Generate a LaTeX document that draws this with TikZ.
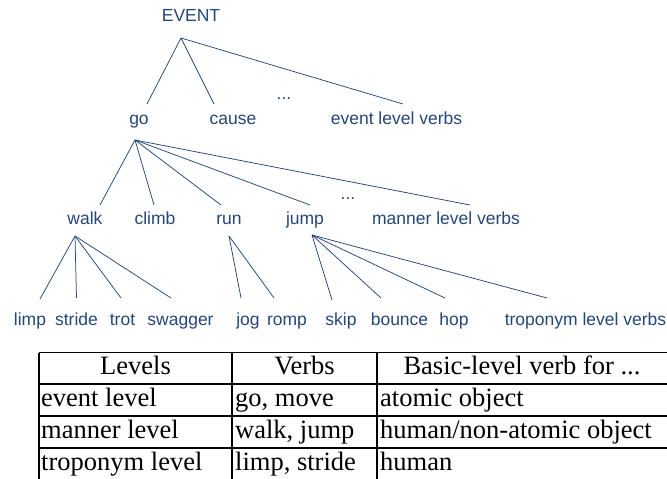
\documentclass[tikz,border=0pt]{standalone}
\usepackage{fontspec}
\setmainfont{Liberation Serif}
\newfontfamily\treefont{Liberation Sans}
\definecolor{treeblue}{RGB}{36,70,122}
\tikzset{
    word/.style={anchor=base, inner sep=0pt, text=treeblue,
                 font=\treefont\fontsize{17.5}{20}\selectfont},
    branch/.style={treeblue, line width=0.75pt},
    cell/.style={anchor=base, inner sep=0pt, font=\fontsize{26.5}{29}\selectfont},
    leftcell/.style={cell, anchor=base west},
    tableline/.style={line width=1.3pt}
}

\begin{document}
\begin{tikzpicture}[x=1pt, y=-1pt]
    \useasboundingbox (0,0) rectangle (667,479);

    % event level
    \node [word] (event) at (191,21) {EVENT};
    \node [word] (go) at (139,124) {go};
    \node [word] (cause) at (233,124) {cause};
    \node [word] (dotsA) at (284,99) {...};
    \node [word] (evl) at (396.5,124) {event level verbs};
    \coordinate (eventfork) at (181,38);
    \draw [branch] (eventfork) -- ([xshift=8pt, yshift=20pt]go.base);
    \draw [branch] (eventfork) -- ([xshift=-19pt, yshift=20pt]cause.base);
    \draw [branch] (eventfork) -- ([xshift=6.5pt, yshift=20pt]evl.base);

    % manner level
    \node [word] (walk) at (85,224) {walk};
    \node [word] (climb) at (155,224) {climb};
    \node [word] (run) at (229,224) {run};
    \node [word] (jump) at (305,224) {jump};
    \node [word] (dotsB) at (348,199) {...};
    \node [word] (mlv) at (446,224) {manner level verbs};
    \coordinate (gofork) at (135,140);
    \draw [branch] (gofork) -- ([xshift=15pt, yshift=19pt]walk.base);
    \draw [branch] (gofork) -- ([xshift=-1pt, yshift=19pt]climb.base);
    \draw [branch] (gofork) -- ([xshift=-8pt, yshift=19pt]run.base);
    \draw [branch] (gofork) -- ([xshift=5pt, yshift=19pt]jump.base);
    \draw [branch] (gofork) -- ([xshift=24pt, yshift=19pt]mlv.base);

    % troponym level
    \node [word] (limp) at (30,325) {limp};
    \node [word] (stride) at (76.5,325) {stride};
    \node [word] (trot) at (122.5,325) {trot};
    \node [word] (swagger) at (180.5,325) {swagger};
    \node [word] (jog) at (248,325) {jog};
    \node [word] (romp) at (287,325) {romp};
    \node [word] (skip) at (341,325) {skip};
    \node [word] (bounce) at (399.5,325) {bounce};
    \node [word] (hop) at (454,325) {hop};
    \node [word] (tlv) at (585.5,325) {troponym level verbs};
    \coordinate (walkfork) at (75,236);
    \coordinate (runfork) at (229,236);
    \coordinate (jumpfork) at (312,235);
    \draw [branch] (walkfork) -- ([xshift=10pt, yshift=26pt]limp.base);
    \draw [branch] (walkfork) -- ([xshift=0pt, yshift=27pt]stride.base);
    \draw [branch] (walkfork) -- ([xshift=-1.5pt, yshift=27pt]trot.base);
    \draw [branch] (walkfork) -- ([xshift=-9.5pt, yshift=27pt]swagger.base);
    \draw [branch] (runfork) -- ([xshift=-7pt, yshift=27pt]jog.base);
    \draw [branch] (runfork) -- ([xshift=-13pt, yshift=27pt]romp.base);
    \draw [branch] (jumpfork) -- ([xshift=-9pt, yshift=25pt]skip.base);
    \draw [branch] (jumpfork) -- ([xshift=-18.5pt, yshift=27pt]bounce.base);
    \draw [branch] (jumpfork) -- ([xshift=-9pt, yshift=27pt]hop.base);
    \draw [branch] (jumpfork) -- ([xshift=-38.5pt, yshift=27pt]tlv.base);

    % table
    \draw [tableline] (39,352.5) -- (667,352.5);
    \draw [tableline] (39,384) -- (667,384);
    \draw [tableline] (39,416) -- (667,416);
    \draw [tableline] (39,448) -- (667,448);
    \draw [tableline] (39,352.5) -- (39,479);
    \draw [tableline] (232,352.5) -- (232,479);
    \draw [tableline] (377,352.5) -- (377,479);

    \node [cell] (hlevels) at (135.5,374) {Levels};
    \node [cell] (hverbs) at (304.5,374) {Verbs};
    \node [cell] (hbasic) at (522,374) {Basic-level verb for ...};
    \node [leftcell] (eventlvl) at (41,406) {event level};
    \node [leftcell] (eventverbs) at (235,406) {go, move};
    \node [leftcell] (eventfor) at (380,406) {atomic object};
    \node [leftcell] (mannerlvl) at (41,438) {manner level};
    \node [leftcell] (mannerverbs) at (235,438) {walk, jump};
    \node [leftcell] (mannerfor) at (380,438) {human/non-atomic object};
    \node [leftcell] (troplvl) at (41,470) {troponym level};
    \node [leftcell] (tropverbs) at (235,470) {limp, stride};
    \node [leftcell] (tropfor) at (380,470) {human};
\end{tikzpicture}
\end{document}
